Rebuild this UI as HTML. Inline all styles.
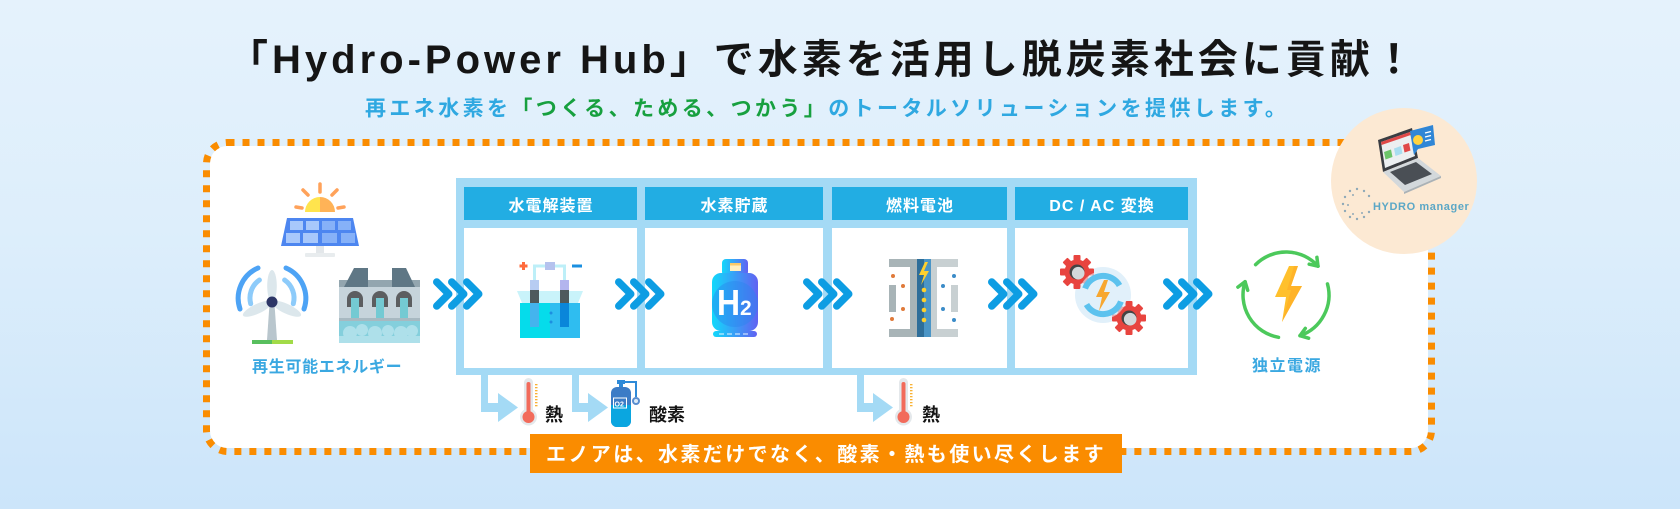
<!DOCTYPE html>
<html><head><meta charset="utf-8">
<style>
html,body{margin:0;padding:0;}
body{width:1680px;height:509px;overflow:hidden;position:relative;background:linear-gradient(180deg,#E5F2FC 0%,#DDEEFB 45%,#CCE5FA 100%);}
svg{position:absolute;left:0;top:0;}
text{font-family:"Liberation Sans","Noto Sans CJK JP",sans-serif;font-weight:bold;}
</style></head><body>
<svg width="1680" height="509" viewBox="0 0 1680 509" xmlns="http://www.w3.org/2000/svg">
<defs>
  <linearGradient id="g1" x1="0" y1="0" x2="1" y2="0">
    <stop offset="0" stop-color="#12D8FB"/><stop offset="1" stop-color="#6162F2"/>
  </linearGradient>
  <g id="chev" fill="none" stroke="#0D9DE3" stroke-width="7.5" stroke-linecap="round" stroke-linejoin="round">
    <polyline points="0,-12 12,0 0,12"/><polyline points="15,-12 27,0 15,12"/><polyline points="30,-12 42,0 30,12"/>
  </g>
  <g id="gear">
    <g fill="#E8443F">
      <circle r="12.5"/>
      <rect x="-3.5" y="-17" width="7" height="7" rx="1"/>
      <rect x="-3.5" y="-17" width="7" height="7" rx="1" transform="rotate(45)"/>
      <rect x="-3.5" y="-17" width="7" height="7" rx="1" transform="rotate(90)"/>
      <rect x="-3.5" y="-17" width="7" height="7" rx="1" transform="rotate(135)"/>
      <rect x="-3.5" y="-17" width="7" height="7" rx="1" transform="rotate(180)"/>
      <rect x="-3.5" y="-17" width="7" height="7" rx="1" transform="rotate(225)"/>
      <rect x="-3.5" y="-17" width="7" height="7" rx="1" transform="rotate(270)"/>
      <rect x="-3.5" y="-17" width="7" height="7" rx="1" transform="rotate(315)"/>
    </g>
    <circle r="7.5" fill="#444"/>
    <circle cx="1.2" cy="1.2" r="6.3" fill="#D3D8DB"/>
  </g>
  <g id="thermo">
    <rect x="4" y="0" width="9" height="40" rx="4.5" fill="#E4E8EB"/>
    <circle cx="8.5" cy="39" r="8.5" fill="#E4E8EB"/>
    <rect x="6.5" y="4" width="4" height="36" rx="2" fill="#F26B5B"/>
    <circle cx="8.5" cy="39" r="6" fill="#F26B5B"/>
    <g fill="#F9B233">
      <rect x="15" y="6" width="2.5" height="1.3"/><rect x="15" y="9" width="2.5" height="1.3"/>
      <rect x="15" y="12" width="2.5" height="1.3"/><rect x="15" y="15" width="2.5" height="1.3"/>
      <rect x="15" y="18" width="2.5" height="1.3"/><rect x="15" y="21" width="2.5" height="1.3"/>
      <rect x="15" y="24" width="2.5" height="1.3"/><rect x="15" y="27" width="2.5" height="1.3"/>
    </g>
  </g>
</defs>

<!-- Title -->
<text x="228" y="73" font-size="40" letter-spacing="4" fill="#151515">「Hydro-Power Hub」で水素を活用し脱炭素社会に貢献！</text>
<text x="365" y="115.5" font-size="21" letter-spacing="3.4" fill="#2FA8E1">再エネ水素を<tspan fill="#17A03F">「つくる、ためる、つかう」</tspan>のトータルソリューションを提供します。</text>

<!-- Dashed container -->
<rect x="210" y="146" width="1218" height="302" rx="17" fill="#FFFFFF"/>
<rect x="206.5" y="142.5" width="1225" height="309" rx="21" fill="none" stroke="#FA8C00" stroke-width="7" stroke-dasharray="7 8"/>

<!-- HYDRO manager circle -->
<circle cx="1404" cy="181" r="73" fill="#FCE9D3"/>
<!-- laptop -->
<polygon points="1378,140 1412,128 1418,158 1383,172" fill="#3A3D42"/>
<polygon points="1381,142 1410,132 1415,156 1385,168" fill="#ECEFF1"/>
<polygon points="1381,142 1410,132 1410.7,135 1381.6,145" fill="#E04848"/>
<polygon points="1384,152 1391,149.5 1392.5,157 1385.5,159.5" fill="#6CC56A"/>
<polygon points="1394,148.5 1401,146 1402.5,153.5 1395.5,156" fill="#A8DDF0"/>
<polygon points="1403,145 1409,143 1410.5,150.5 1404.5,152.5" fill="#E04848"/>
<polygon points="1383,172 1418,158 1441,176 1404,192" fill="#D3D8DB"/>
<polygon points="1390,172 1416,162 1432,174 1405,185" fill="#4A4F55"/>
<polygon points="1404,192 1441,176 1441,178 1404,194" fill="#AAB2B7"/>
<polygon points="1410,131 1433,125 1435,145 1418,149 1414,155 1413,150" fill="#2F86D6"/>
<circle cx="1418" cy="140" r="5" fill="#FFD23F"/>
<g stroke="#FFFFFF" stroke-width="1.2"><line x1="1425" y1="133" x2="1431" y2="131.5"/><line x1="1425" y1="137" x2="1431" y2="135.5"/><line x1="1425" y1="141" x2="1431" y2="139.5"/></g>
<!-- dotted ring -->
<g fill="#8FA9B8">
  <circle cx="1357" cy="189" r="1.2"/><circle cx="1364" cy="191" r="1.2"/><circle cx="1369" cy="196" r="1.2"/>
  <circle cx="1350" cy="191" r="1.2"/><circle cx="1345" cy="197" r="1.2"/><circle cx="1343" cy="204" r="1.2"/>
  <circle cx="1345" cy="211" r="1.2"/><circle cx="1350" cy="217" r="1.2"/><circle cx="1357" cy="219" r="1.2"/>
  <circle cx="1364" cy="217" r="1.2"/><circle cx="1369" cy="212" r="1.2"/><circle cx="1353" cy="195" r="1"/>
  <circle cx="1348" cy="205" r="1"/><circle cx="1353" cy="214" r="1"/><circle cx="1362" cy="213" r="1"/>
</g>
<text x="1373" y="210" font-size="11" letter-spacing="0.6" fill="#5BA7C6">HYDRO manager</text>

<!-- Renewable energy icons -->
<!-- sun -->
<g stroke="#FFA25A" stroke-width="3.5" stroke-linecap="round">
  <line x1="320" y1="184" x2="320" y2="192"/>
  <line x1="303" y1="190" x2="308" y2="195"/>
  <line x1="337" y1="190" x2="332" y2="195"/>
  <line x1="296" y1="207" x2="302" y2="208"/>
  <line x1="338" y1="208" x2="344" y2="207"/>
</g>
<path d="M305 212 A15 15 0 0 1 320 197 L320 212 Z" fill="#FFE44D"/>
<path d="M320 197 A15 15 0 0 1 335 212 L320 212 Z" fill="#FFB357"/>
<!-- panel -->
<polygon points="287,218 353,218 359,246 281,246" fill="#4D86F0"/>
<g fill="#A8C8FB"><rect x="290" y="221" width="13" height="9"/><rect x="306" y="221" width="13" height="9"/><rect x="286" y="233" width="14" height="10"/><rect x="303" y="233" width="15" height="10"/></g>
<g fill="#86B1F8"><rect x="322" y="221" width="13" height="9"/><rect x="338" y="221" width="13" height="9"/><rect x="322" y="233" width="15" height="10"/><rect x="341" y="233" width="14" height="10"/></g>
<rect x="316" y="246" width="8" height="7" fill="#E3E7EA"/>
<rect x="305" y="253" width="30" height="4" rx="1" fill="#E8ECEE"/>
<!-- wind turbine -->
<g fill="none" stroke-width="5" stroke-linecap="round">
  <path d="M240 309 A33 33 0 0 1 258 268" stroke="#4DA3F5"/>
  <path d="M250.7 303.7 A22 22 0 0 1 259.4 280" stroke="#8DCBFA"/>
  <path d="M304 309 A33 33 0 0 0 286 268" stroke="#4DA3F5"/>
  <path d="M293.3 303.7 A22 22 0 0 0 284.6 280" stroke="#8DCBFA"/>
</g>
<polygon points="269.5,304 274.5,304 277,340 267,340" fill="#B9C6CD"/>
<g fill="#DCE7EC">
  <ellipse cx="272" cy="286" rx="4.8" ry="16"/>
  <ellipse cx="272" cy="286" rx="4.8" ry="16" transform="rotate(-115 272 302)"/>
  <ellipse cx="272" cy="286" rx="4.8" ry="16" transform="rotate(115 272 302)"/>
</g>
<circle cx="272" cy="302" r="5.5" fill="#2C3566"/>
<rect x="252" y="340" width="20" height="4" fill="#58BF5E"/>
<rect x="272" y="340" width="21" height="4" fill="#A2DB48"/>
<!-- dam -->
<rect x="339" y="285" width="81" height="58" fill="#C6D4DB"/>
<rect x="339" y="280" width="81" height="7" fill="#93A6AF"/>
<polygon points="344,287 354,268 368,268 368,287" fill="#5F7785"/>
<polygon points="392,287 392,268 406,268 415,287" fill="#5F7785"/>
<g fill="#5C5E60">
  <path d="M347 307 V299 A8 8 0 0 1 363 299 V307 Z"/>
  <path d="M372 307 V299 A8 8 0 0 1 388 299 V307 Z"/>
  <path d="M396 307 V299 A8 8 0 0 1 412 299 V307 Z"/>
</g>
<g fill="#74CAD3"><rect x="351" y="298" width="8" height="30"/><rect x="376" y="298" width="8" height="30"/><rect x="400" y="298" width="8" height="30"/></g>
<rect x="339" y="318" width="81" height="3" fill="#A8B9C1"/>
<rect x="339" y="321" width="81" height="22" fill="#84CFDC"/>
<g fill="#AEE0EA"><circle cx="350" cy="333" r="7"/><circle cx="362" cy="330" r="6"/><circle cx="375" cy="333" r="7"/><circle cx="388" cy="331" r="6"/><circle cx="401" cy="333" r="7"/><circle cx="412" cy="331" r="6"/><rect x="339" y="336" width="81" height="7"/></g>
<text x="252" y="372" font-size="16" letter-spacing="0.7" fill="#3AA8E1">再生可能エネルギー</text>

<!-- Process frame -->
<rect x="456" y="178" width="741" height="197" fill="#A4DAF5"/>
<g fill="#22ADE3">
  <rect x="464" y="187" width="173" height="33"/>
  <rect x="645" y="187" width="178" height="33"/>
  <rect x="832" y="187" width="175" height="33"/>
  <rect x="1015" y="187" width="173" height="33"/>
</g>
<g fill="#FFFFFF">
  <rect x="464" y="228" width="173" height="140"/>
  <rect x="645" y="228" width="178" height="140"/>
  <rect x="832" y="228" width="175" height="140"/>
  <rect x="1015" y="228" width="173" height="140"/>
</g>
<g font-size="16" letter-spacing="1" fill="#FFFFFF" text-anchor="middle">
  <text x="551" y="211">水電解装置</text>
  <text x="734.5" y="211">水素貯蔵</text>
  <text x="920" y="211">燃料電池</text>
  <text x="1102" y="211">DC / AC 変換</text>
</g>

<!-- Electrolysis icon -->
<g fill="none" stroke="#BDEFF8" stroke-width="3"><polyline points="534.5,281 534.5,266 564.5,266 564.5,281"/></g>
<rect x="545" y="262" width="10" height="8" fill="#B5C2EE"/>
<rect x="519.5" y="264.5" width="8" height="3" fill="#FF6B3D"/><rect x="522" y="262" width="3" height="8" fill="#FF6B3D"/>
<rect x="572" y="264.5" width="10" height="3" fill="#1A8FE0"/>
<polygon points="517,291 583,291 578,303 522,303" fill="#C9F3FA"/>
<rect x="520" y="303" width="30" height="35" fill="#05DCEB"/>
<rect x="550" y="303" width="30" height="35" fill="#2FBDF0"/>
<rect x="530" y="280" width="9" height="10" fill="#B7CCF2"/><rect x="530" y="290" width="9" height="13" fill="#4E5A5D"/><rect x="530" y="303" width="9" height="24" fill="#44B4EE"/>
<rect x="560" y="280" width="9" height="10" fill="#B3B5EE"/><rect x="560" y="290" width="9" height="13" fill="#4E5A5D"/><rect x="560" y="303" width="9" height="24" fill="#0A86DA"/>
<circle cx="551" cy="313" r="1.5" fill="#1C8FE0"/><circle cx="551" cy="322" r="1.5" fill="#1C8FE0"/>

<!-- H2 cylinder -->
<rect x="722" y="259" width="26" height="17" rx="4" fill="url(#g1)"/>
<rect x="730" y="263" width="11" height="8" fill="#FFEFC0"/><rect x="730" y="263" width="11" height="2.5" fill="#F9C96A"/>
<rect x="712" y="273" width="46" height="58" rx="9" fill="url(#g1)"/>
<circle cx="735" cy="304" r="23" fill="#2A86EE" opacity="0.45"/>
<text x="717" y="315" font-size="36" fill="#FFFFFF" textLength="23" lengthAdjust="spacingAndGlyphs">H</text>
<text x="740" y="315" font-size="21" fill="#FFFFFF">2</text>
<rect x="713" y="331" width="44" height="6" rx="3" fill="url(#g1)"/>
<g fill="#E8F6FF"><rect x="719" y="333.5" width="5" height="1"/><rect x="727" y="333.5" width="5" height="1"/><rect x="735" y="333.5" width="5" height="1"/><rect x="743" y="333.5" width="5" height="1"/></g>

<!-- Fuel cell -->
<g fill="#A8B4B7">
  <rect x="889" y="259" width="31" height="8"/><rect x="889" y="329" width="31" height="8"/>
  <rect x="910" y="259" width="8" height="78"/><rect x="889" y="285" width="7" height="27"/>
</g>
<g fill="#C8D0D2">
  <rect x="927" y="259" width="31" height="8"/><rect x="927" y="329" width="31" height="8"/>
  <rect x="929" y="259" width="8" height="78"/><rect x="951" y="285" width="7" height="27"/>
</g>
<rect x="917" y="259" width="7" height="78" fill="#2E6E99"/>
<rect x="924" y="259" width="7" height="78" fill="#4B95C6"/>
<polygon points="925,262 919,275 924,275 921,285 929,271 924,271 928,262" fill="#FFD02C"/>
<g fill="#FFD02C"><circle cx="924" cy="290" r="2.3"/><circle cx="924" cy="300" r="2.3"/><circle cx="924" cy="310" r="2.3"/><circle cx="924" cy="320" r="2.3"/></g>
<g fill="#E07A3A"><circle cx="893" cy="276" r="2"/><circle cx="903" cy="286" r="2"/><circle cx="903" cy="309" r="2"/><circle cx="892" cy="319" r="2"/></g>
<g fill="#3C8CC8"><circle cx="954" cy="276" r="2"/><circle cx="943" cy="286" r="2"/><circle cx="943" cy="309" r="2"/><circle cx="954" cy="320" r="2"/></g>

<!-- Converter -->
<circle cx="1103" cy="295" r="28" fill="#E1F0FA"/>
<use href="#gear" transform="translate(1077 272)"/>
<use href="#gear" transform="translate(1129 318)"/>
<circle cx="1103" cy="295" r="24" fill="#E1F0FA" opacity="0.6"/>
<g fill="none" stroke="#5CC2EE" stroke-width="6">
  <path d="M1085.1 288.5 A19 19 0 0 1 1119.5 285.5"/>
  <path d="M1120.9 301.5 A19 19 0 0 1 1086.5 304.5"/>
</g>
<polygon points="1104,280 1096,297 1102,297 1099,311 1110,292 1104,292 1108,280" fill="#F7A730"/>

<!-- Independent power -->
<g fill="none" stroke="#4CC95B" stroke-width="3.5" stroke-linecap="round" stroke-linejoin="round">
  <path d="M1255.6 264.6 A43 43 0 0 1 1318 266.2"/>
  <path d="M1327.5 283.9 A43 43 0 0 1 1300 335.7"/>
  <path d="M1278.5 337.3 A43 43 0 0 1 1245.1 281.7"/>
  <polyline points="1316.9,257.3 1318,266.2 1309.2,264.2"/>
  <polyline points="1308.6,338.2 1300,335.7 1305.3,328.4"/>
  <polyline points="1237.9,287.1 1245.1,281.7 1247.7,290.3"/>
</g>
<polygon points="1289,266 1298,266 1291,286 1302,286 1282,322 1286,297 1275,297" fill="#FFC02C"/>
<polygon points="1294,266 1298,266 1291,286 1302,286 1282,322 1291,290 1287,290" fill="#FFAE26" opacity="0.7"/>
<text x="1252" y="371" font-size="16" letter-spacing="1.5" fill="#3AA8E1">独立電源</text>

<!-- Chevrons -->
<use href="#chev" transform="translate(436.75 294)"/>
<use href="#chev" transform="translate(618.75 294)"/>
<use href="#chev" transform="translate(806.75 294)"/>
<use href="#chev" transform="translate(991.75 294)"/>
<use href="#chev" transform="translate(1166.75 294)"/>

<!-- L arrows -->
<g fill="#A4DAF5">
  <path d="M481 375 L488 375 L488 403 L498 403 L498 393 L518 407.5 L498 422 L498 412 L481 412 Z"/>
  <path d="M572 375 L579 375 L579 403 L588 403 L588 393 L608 407.5 L588 422 L588 412 L572 412 Z"/>
  <path d="M857 375 L864 375 L864 403 L873 403 L873 393 L893 407.5 L873 422 L873 412 L857 412 Z"/>
</g>
<use href="#thermo" transform="translate(520 378)"/>
<use href="#thermo" transform="translate(895 378)"/>
<!-- O2 cylinder -->
<rect x="617" y="380" width="8" height="4" fill="#2E8AD8"/>
<rect x="619" y="384" width="4" height="4" fill="#2E8AD8"/>
<path d="M625 382 H636 V397" fill="none" stroke="#2E8AD8" stroke-width="2"/>
<circle cx="636" cy="401" r="4" fill="#5A8ED0"/>
<circle cx="636" cy="401" r="2" fill="#DDEBF7"/>
<rect x="611" y="387" width="20" height="40" rx="6" fill="#3C7CC6"/>
<path d="M611 405 H631 V421 A6 6 0 0 1 625 427 H617 A6 6 0 0 1 611 421 Z" fill="#0AA6E0"/>
<rect x="613.5" y="398" width="13" height="10" fill="none" stroke="#FFFFFF" stroke-width="1"/>
<text x="614.5" y="406.5" font-size="7" fill="#FFFFFF">O2</text>
<g font-size="18" fill="#151515">
  <text x="545" y="421">熱</text>
  <text x="649" y="421">酸素</text>
  <text x="922" y="421">熱</text>
</g>

<!-- Orange banner -->
<rect x="530" y="434" width="592" height="39" fill="#FA8C00"/>
<text x="546" y="461" font-size="20" letter-spacing="2.4" fill="#FFFFFF">エノアは、水素だけでなく、酸素・熱も使い尽くします</text>
</svg>
</body></html>
